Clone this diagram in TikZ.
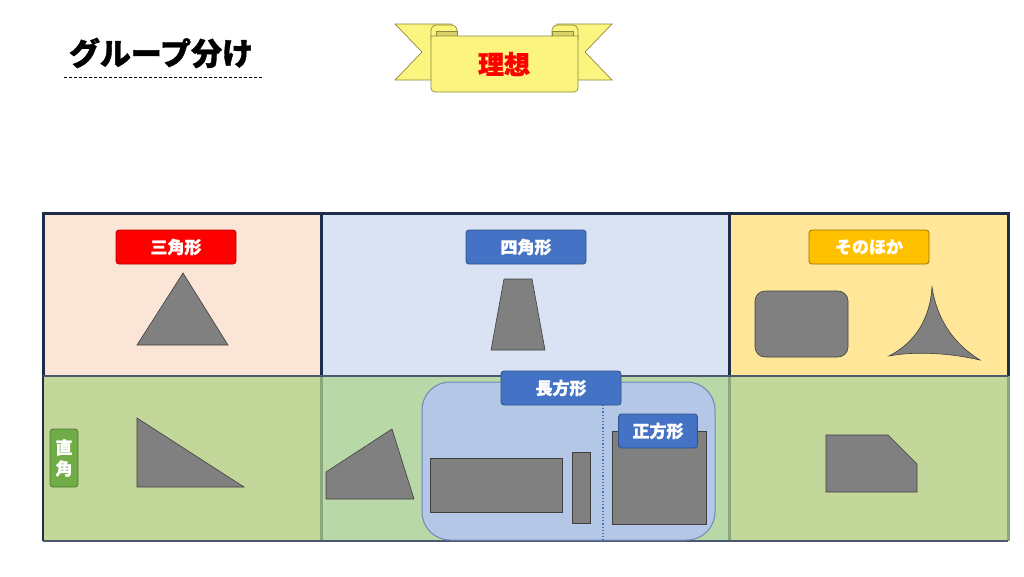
\documentclass[tikz,border=0pt]{standalone}
\usepackage{fontspec}
\newfontfamily\jp{Noto Sans CJK JP}[BoldFeatures={FakeBold=1.2}]
\usetikzlibrary{positioning}

\definecolor{navy}{HTML}{1F2D4D}
\definecolor{peach}{HTML}{FBE5D6}
\definecolor{paleblue}{HTML}{DAE3F3}
\definecolor{paleyellow}{HTML}{FFE699}
\definecolor{olive}{HTML}{C4D79B}
\definecolor{mint}{HTML}{B8D8A8}
\definecolor{gridgreen}{HTML}{8AA87C}
\definecolor{rectblue}{HTML}{B4C7E7}
\definecolor{rectedge}{HTML}{6F88B6}
\definecolor{tagblue}{HTML}{4472C4}
\definecolor{tagred}{HTML}{FF0000}
\definecolor{tagorange}{HTML}{FFC000}
\definecolor{taggreen}{HTML}{70AD47}
\definecolor{ribbon}{HTML}{FBF580}
\definecolor{ribbondark}{HTML}{D8D26A}
\definecolor{ribbonedge}{HTML}{8C8A3C}

\tikzset{
  figure/.style={fill=black!50,draw=black!75,line width=0.6pt},
  tag/.style={rounded corners=3pt,text=white,line width=0.8pt,inner sep=0pt,
    minimum height=34pt,font=\jp\bfseries\fontsize{17}{17}\selectfont},
  band/.style={draw=ribbonedge,line width=0.7pt}
}

\begin{document}
\begin{tikzpicture}[x=1pt,y=-1pt]
\useasboundingbox (0,0) rectangle (1024,576);

% heading
\node (Title) at (161,53) {\jp\bfseries\fontsize{31}{31}\selectfont グループ分け};
\draw [dashed,line width=1pt,dash pattern=on 3pt off 2pt] (64,77) -- (263,77);

% ribbon
\draw [band,fill=ribbon] (395,24) -- (452,24) -- (452,80) -- (395,80) -- (422,52) -- cycle;
\draw [band,fill=ribbon] (612,24) -- (557,24) -- (557,80) -- (612,80) -- (585,52) -- cycle;
\draw [band,fill=ribbon,rounded corners=5pt] (431,40) -- (431,25) -- (457,25) -- (457,40);
\draw [band,fill=ribbondark] (436,31) -- (457,31) -- (457,37) -- (436,37) -- cycle;
\draw [band,fill=ribbon,rounded corners=5pt] (578,40) -- (578,25) -- (552,25) -- (552,40);
\draw [band,fill=ribbondark] (573,31) -- (552,31) -- (552,37) -- (573,37) -- cycle;
\draw [band,fill=ribbon] (431,36) -- (431,88) arc[start angle=180,end angle=90,radius=4] -- (574,92)
  arc[start angle=90,end angle=0,radius=4] -- (578,36) -- cycle;
\node (Ideal) at (504,64) {\jp\bfseries\fontsize{26}{26}\selectfont\color{tagred}理想};

% table
\fill [peach] (43,213) rectangle (321,376);
\fill [paleblue] (321,213) rectangle (729,376);
\fill [paleyellow] (729,213) rectangle (1008,376);
\fill [olive] (43,376) rectangle (1008,541);
\fill [mint] (321,376) rectangle (729,541);
\draw [navy,line width=3pt] (43,376) -- (43,213) -- (1008,213) -- (1008,376);
\draw [navy,line width=3pt] (321,213) -- (321,376) (729,213) -- (729,376);
\draw [gridgreen,line width=3pt] (321,376) -- (321,541) (729,376) -- (729,541) (1008,376) -- (1008,541);
\draw [navy,line width=2.5pt] (43,376) -- (43,541);
\draw [navy!80,line width=1.4pt] (43,376) -- (1008,376) (43,541) -- (1008,541);

% triangles
\draw [figure] (183,273) -- (228,345) -- (137,345) -- cycle;
\draw [figure] (137,418) -- (244,487) -- (137,487) -- cycle;
\draw [figure] (326,472) -- (392,429) -- (414,499) -- (326,499) -- cycle;

% quadrilaterals
\draw [figure] (504,279) -- (532,279) -- (545,350) -- (491,350) -- cycle;

% rectangles
\draw [rectedge,fill=rectblue,line width=1pt,rounded corners=28pt] (422,382) rectangle (715,540);
\draw [tagblue,dotted,line width=1.2pt] (603,405) -- (603,540);
\draw [figure] (430,458) rectangle (562,512);
\draw [figure] (572,452) rectangle (590,523);
\draw [figure] (612,431) rectangle (706,524);

% others
\draw [figure,rounded corners=10pt] (755,291) rectangle (848,357);
\draw [figure] (889,356) .. controls (916,342) and (930,318) .. (932,287)
  .. controls (937,320) and (954,344) .. (980,360)
  .. controls (950,353) and (915,351) .. (889,356) -- cycle;
\draw [figure] (826,435) -- (888,435) -- (917,464) -- (917,492) -- (826,492) -- cycle;

% labels
\node [tag,fill=tagred,draw=red!70!black,minimum width=120pt] (Triangle) at (176,247) {三角形};
\node [tag,fill=tagblue,draw=tagblue!70!black,minimum width=120pt] (Quad) at (526,247) {四角形};
\node [tag,fill=tagorange,draw=tagorange!60!black,minimum width=120pt] (Other) at (869,247) {そのほか};
\node [tag,fill=tagblue,draw=tagblue!70!black,minimum width=120pt] (Rect) at (561,388) {長方形};
\node [tag,fill=tagblue,draw=tagblue!70!black,minimum width=79pt] (Square) at (658,431) {正方形};
\node [tag,fill=taggreen,draw=taggreen!70!black,minimum width=28pt,minimum height=58pt,align=center,
  font=\jp\bfseries\fontsize{17}{21}\selectfont] (RightAngle) at (64,458) {直\\角};
\end{tikzpicture}
\end{document}
